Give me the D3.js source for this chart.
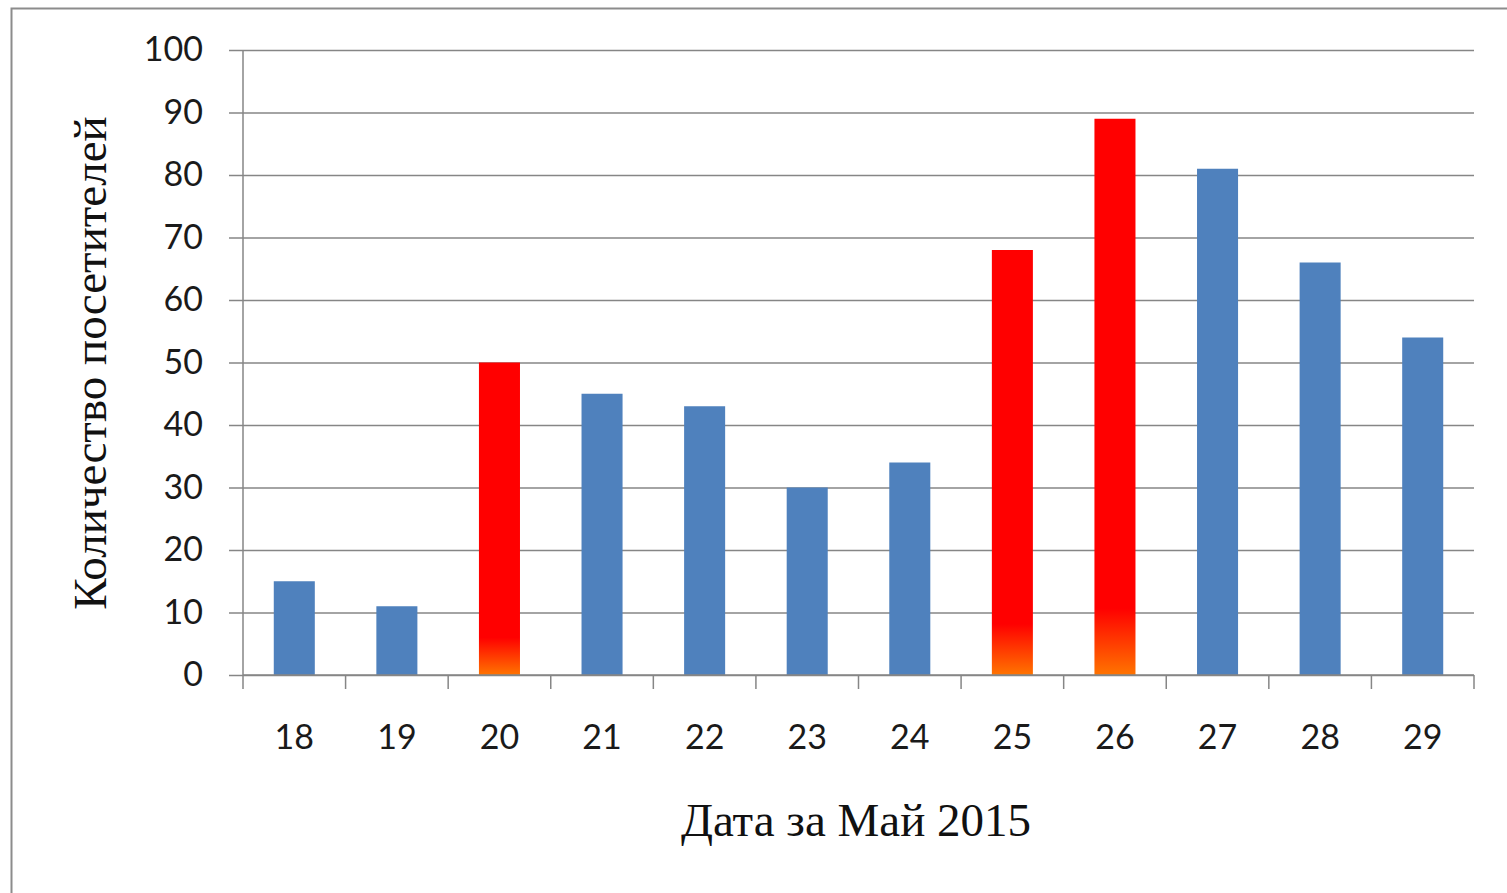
<!DOCTYPE html>
<html>
<head>
<meta charset="utf-8">
<script src="https://cdnjs.cloudflare.com/ajax/libs/d3/7.8.5/d3.min.js"></script>
<style>
  body { margin: 0; background: #fff; }
  svg { display: block; }
</style>
</head>
<body>
<div id="container"></div>
<script>
	var WIDTH = 1507;
	var HEIGHT = 893;

	// days of May 2015 and visitor counts
	var days = ["18", "19", "20", "21", "22", "23", "24", "25", "26", "27", "28", "29"];
	var visitors = [15, 11, 50, 45, 43, 30, 34, 68, 89, 81, 66, 54];
	// days shown in red
	var highlighted = ["20", "25", "26"];
	var yTicks = [0, 10, 20, 30, 40, 50, 60, 70, 80, 90, 100];

	var xTitle = "Дата за Май 2015";
	var yTitle = "Количество посетителей";

	var pLeft = 243, pRight = 1474, pTop = 50, pBottom = 675;

	var svg = d3.select('#container')
		.append('svg')
		.attr('width', WIDTH)
		.attr('height', HEIGHT);

	var defs = svg.append('defs');
	var grad = defs.append('linearGradient')
		.attr('id', 'redGrad')
		.attr('x1', 0).attr('y1', 0)
		.attr('x2', 0).attr('y2', 1);
	grad.append('stop').attr('offset', '0%').attr('stop-color', '#ff0000');
	grad.append('stop').attr('offset', '88%').attr('stop-color', '#ff0000');
	grad.append('stop').attr('offset', '100%').attr('stop-color', '#ff7400');

	// outer frame
	svg.append('rect')
		.attr('x', 11.5).attr('y', 8.5)
		.attr('width', WIDTH + 10).attr('height', HEIGHT + 10)
		.style('fill', 'none')
		.style('stroke', '#8c8c8c')
		.style('stroke-width', 2);

	var x = d3.scaleBand().domain(days).range([pLeft, pRight])
		.paddingInner(0.6).paddingOuter(0.3);
	var y = d3.scaleLinear().domain([0, 100]).range([pBottom, pTop]);

	// gridlines and y axis
	var yAxis = d3.axisLeft(y)
		.tickValues(yTicks)
		.tickSize(14)
		.tickPadding(26);
	var gy = svg.append('g')
		.attr('transform', 'translate(' + pLeft + ',0)')
		.call(yAxis);
	gy.select('.domain').remove();
	gy.selectAll('.tick line')
		.attr('x1', -14)
		.attr('x2', pRight - pLeft)
		.style('stroke', '#868686')
		.style('stroke-width', 1.5);
	gy.selectAll('.tick text')
		.style('font-family', 'Lato, "Open Sans", sans-serif')
		.style('font-size', '34px')
		.style('fill', '#1a1a1a');

	svg.append('line')
		.attr('x1', pLeft).attr('x2', pLeft)
		.attr('y1', pTop).attr('y2', pBottom)
		.style('stroke', '#868686')
		.style('stroke-width', 1.5);

	// bars
	svg.selectAll('rect.bar')
		.data(days)
		.enter().append('rect')
		.attr('class', 'bar')
		.attr('x', function(d){ return x(d); })
		.attr('width', x.bandwidth())
		.attr('y', function(d,i){ return y(visitors[i]); })
		.attr('height', function(d,i){ return pBottom - y(visitors[i]); })
		.style('fill', function(d){
			return highlighted.indexOf(d) >= 0 ? 'url(#redGrad)' : '#4f81bd';
		});

	// x axis
	var xAxis = d3.axisBottom(x).tickSize(0).tickPadding(50);
	var gx = svg.append('g')
		.attr('transform', 'translate(0,' + pBottom + ')')
		.call(xAxis);
	gx.select('.domain').remove();
	gx.selectAll('.tick text')
		.style('font-family', 'Lato, "Open Sans", sans-serif')
		.style('font-size', '34px')
		.style('fill', '#1a1a1a');

	svg.append('line')
		.attr('x1', pLeft).attr('x2', pRight)
		.attr('y1', pBottom).attr('y2', pBottom)
		.style('stroke', '#868686')
		.style('stroke-width', 1.5);

	// category separator ticks
	var step = x.step();
	var sepTicks = d3.range(days.length + 1);
	var sepX = function(d){ return x(days[0]) - x.paddingOuter() * step + d * step; };
	svg.selectAll('line.sep')
		.data(sepTicks)
		.enter().append('line')
		.attr('class', 'sep')
		.attr('x1', sepX)
		.attr('x2', sepX)
		.attr('y1', pBottom)
		.attr('y2', pBottom + 14)
		.style('stroke', '#868686')
		.style('stroke-width', 1.5);

	// titles
	svg.append('text')
		.attr('x', 856)
		.attr('y', 836)
		.attr('text-anchor', 'middle')
		.style('font-family', '"Liberation Serif", "Times New Roman", serif')
		.style('font-size', '47px')
		.style('fill', '#111')
		.text(xTitle);

	svg.append('text')
		.attr('transform', 'translate(106,363) rotate(-90)')
		.attr('text-anchor', 'middle')
		.style('font-family', '"Liberation Serif", "Times New Roman", serif')
		.style('font-size', '47px')
		.style('fill', '#111')
		.text(yTitle);
</script>
</body>
</html>
